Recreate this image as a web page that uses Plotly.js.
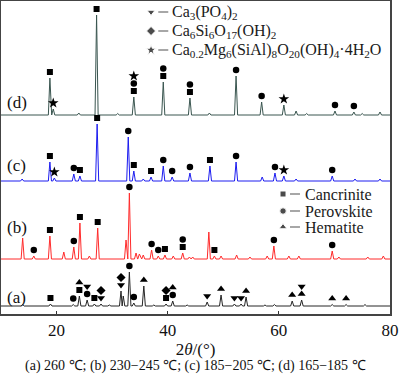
<!DOCTYPE html>
<html>
<head>
<meta charset="utf-8">
<script src="https://cdn.plot.ly/plotly-3.0.1.min.js"></script>
<style>html,body{margin:0;padding:0;background:#fff;}#chart{width:400px;height:379px;}</style>
</head>
<body>
<div id="chart"></div>
<script>
// ---------------- DATA ----------------
// Peak positions (2θ, degrees) and relative intensities (a.u.) of each pattern
const peaks_a_2theta = [13.9, 18.9, 23.0, 24.1, 25.5, 26.8, 28.0, 29.5, 31.6, 32.0, 33.1, 33.9, 35.7, 37.5, 39.7, 40.9, 43.5, 47.1, 49.6, 52.0, 53.2, 54.1, 57.5, 59.2, 62.4, 64.1, 69.6, 72.1, 75.5];
const peaks_a_int    = [1.5,  2,    1.5,  10,   6,    2,    2,    1,    15,   10,   34,   3,    20,   1,    2,    5,    1,    4,    11,   2,    2,    9,    1,    1.5,  5,    6,    1.5,  1.5,  1.5];

const peaks_b_2theta = [13.9, 15.9, 18.8, 21.3, 23.1, 24.2, 25.9, 27.4, 32.5, 33.1, 34.3, 34.9, 35.6, 37.1, 38.3, 39.5, 41.0, 42.7, 43.9, 44.5, 47.4, 48.4, 49.6, 52.4, 54.8, 57.9, 59.1, 61.8, 63.6, 69.6, 70.8, 76.0, 78.8];
const peaks_b_int    = [21,   3,    23,   7,    12,   36,   3,    31,   19,   66,   6,    5,    4,    9,    3,    4,    3,    6,    2,    2,    27,   3,    3,    4,    2,    3,    13,   3,    3,    8,    2,    2,    3];

const peaks_c_2theta = [13.8, 18.8, 19.6, 23.1, 24.2, 27.3, 32.9, 33.9, 35.6, 37.0, 39.2, 40.8, 44.0, 47.6, 52.3, 57.0, 59.3, 60.9, 63.1, 69.6, 73.7, 78.2];
const peaks_c_int    = [2,    19,   3,    7,    5,    57,   44,   10,   2,    4,    15,   4,    8,    15,   19,   4,    8,    5,    2,    5,    2,    2];

const peaks_d_2theta = [18.8, 19.4, 24.0, 27.2, 31.0, 33.9, 39.2, 44.0, 47.5, 52.3, 56.9, 60.9, 63.1, 65.0, 70.1, 73.5, 75.0, 78.2];
const peaks_d_int    = [37,   6,    2,    100,  1.5,  18,   33,   17,   2,    39,   13,   10,   4,    1.5,  4,    3,    1.5,  3];

// Phase markers: which pattern, at which peak (2θ), and stack level above that peak
const cancrinite_pattern = ['a','a','a','a','b','b','b','b','b','b','c','c','c','c','c','c','d','d','d','d','d'];
const cancrinite_2theta  = [18.9,24.1,26.8,39.7,18.8,24.2,27.4,39.5,42.7,48.4,18.8,24.2,27.3,33.9,37.0,47.6,18.8,27.2,33.9,39.2,44.0];
const cancrinite_level   = [0,0,0,0,0,0,0,0,0,0,0,0,0,0,0,0,0,0,0,0,0];

const perovskite_pattern = ['a','a','a','a','a','b','b','b','b','b','b','b','b','c','c','c','c','c','c','c','c','d','d','d','d','d','d','d'];
const perovskite_2theta  = [23.0,25.5,33.1,33.9,40.9,15.9,23.1,33.1,37.1,38.3,42.7,59.1,69.6,23.1,32.9,39.2,40.8,44.0,52.3,59.3,69.6,33.9,39.2,44.0,52.3,56.9,70.1,73.5];
const perovskite_level   = [0,0,0,0,0,0,0,0,0,0,1,0,0,0,0,0,0,0,0,0,0,1,1,1,0,0,0,0];

const hematite_pattern = ['a','a','a','a','a','a','a','a','a'];
const hematite_2theta  = [24.1,35.7,40.9,49.6,54.1,62.4,64.1,69.6,72.1];
const hematite_level   = [1,0,1,0,0,0,0,0,0];

const phosphate_pattern = ['a','a','a','a','a','a','a'];
const phosphate_2theta  = [25.5,28.0,31.6,47.1,52.0,53.2,64.1];
const phosphate_level   = [1,0,0,0,0,0,1];

const silicate_pattern = ['a','a','a'];
const silicate_2theta  = [28.0,31.6,39.7];
const silicate_level   = [1,1,1];

const mgsilicate_pattern = ['c','c','d','d','d'];
const mgsilicate_2theta  = [19.6,60.9,19.4,33.9,60.9];
const mgsilicate_level   = [0,0,0,2,0];

// Labels
const patternLabels = ['(a)','(b)','(c)','(d)'];
const legendTop = ['Ca<sub>3</sub>(PO<sub>4</sub>)<sub>2</sub>',
                   'Ca<sub>6</sub>Si<sub>6</sub>O<sub>17</sub>(OH)<sub>2</sub>',
                   'Ca<sub>0.2</sub>Mg<sub>6</sub>(SiAl)<sub>8</sub>O<sub>20</sub>(OH)<sub>4</sub>·4H<sub>2</sub>O'];
const legendMid = ['Cancrinite','Perovskite','Hematite'];
const xTickVals = [20, 40, 60, 80];
const xTitle = '2<i>θ</i>/(°)';
const caption = '(a) 260 ℃; (b) 230−245 ℃; (c) 185−205 ℃; (d) 165−185 ℃';

// ---------------- STYLE / LAYOUT ----------------
const FONT = 'Liberation Serif, Times New Roman, serif';
const style = {
  a: {color:'#262626', offset: 8},
  b: {color:'#ff2b2b', offset: 55},
  c: {color:'#1c1cf0', offset: 133},
  d: {color:'#3a5650', offset: 199}
};
const peakHalfWidth = 0.28;
const markerGap = 6, markerStep = 7.5;
const X0 = 10, X1 = 80, YMAX = 313;

const patterns = {
  a: {t: peaks_a_2theta, i: peaks_a_int},
  b: {t: peaks_b_2theta, i: peaks_b_int},
  c: {t: peaks_c_2theta, i: peaks_c_int},
  d: {t: peaks_d_2theta, i: peaks_d_int}
};

function buildLine(key) {
  const p = patterns[key], off = style[key].offset;
  const idx = p.t.map((v, k) => k).sort((m, n) => p.t[m] - p.t[n]);
  const xs = [X0], ys = [off];
  idx.forEach((k, j) => {
    const c = p.t[k];
    const prev = j > 0 ? p.t[idx[j-1]] : -Infinity;
    const next = j < idx.length - 1 ? p.t[idx[j+1]] : Infinity;
    const lf = Math.max(c - peakHalfWidth, (c + prev) / 2);
    const rf = Math.min(c + peakHalfWidth, (c + next) / 2);
    xs.push(lf, c, rf); ys.push(off, off + p.i[k], off);
  });
  xs.push(X1); ys.push(off);
  return {x: xs, y: ys, type: 'scatter', mode: 'lines', hoverinfo: 'skip',
          line: {color: style[key].color, width: 1}};
}

function peakTop(key, tt) {
  const p = patterns[key];
  let best = 0, bd = Infinity;
  p.t.forEach((v, k) => { const d = Math.abs(v - tt); if (d < bd) { bd = d; best = k; } });
  return style[key].offset + p.i[best];
}

function markerTrace(pat, tt, lvl, symbol, size) {
  return {
    x: tt.slice(),
    y: tt.map((v, k) => peakTop(pat[k], v) + markerGap + lvl[k] * markerStep),
    type: 'scatter', mode: 'markers', hoverinfo: 'skip',
    marker: {symbol: symbol, size: size, color: '#000', line: {width: 0}}
  };
}

const traces = ['a','b','c','d'].map(buildLine);
traces.push(markerTrace(cancrinite_pattern, cancrinite_2theta, cancrinite_level, 'square', 6));
traces.push(markerTrace(perovskite_pattern, perovskite_2theta, perovskite_level, 'circle', 6.5));
traces.push(markerTrace(hematite_pattern, hematite_2theta, hematite_level, 'triangle-up', 7));
traces.push(markerTrace(phosphate_pattern, phosphate_2theta, phosphate_level, 'triangle-down', 7));
traces.push(markerTrace(silicate_pattern, silicate_2theta, silicate_level, 'diamond', 7));
traces.push(markerTrace(mgsilicate_pattern, mgsilicate_2theta, mgsilicate_level, 'star', 8));

// Legend blocks (drawn in data space of the fixed axes)
const legTop = {sx: 37.0, d0: 38.3, d1: 40.1, tx: 40.5, ys: [302, 283, 264], sym: ['triangle-down','diamond','star'], size: [7,7,8]};
const legMid = {sx: 60.75, d0: 62.0, d1: 63.8, tx: 64.3, ys: [120, 103, 87], sym: ['square','circle','triangle-up'], size: [6,6.5,7]};

const shapes = [], annotations = [];
[[legTop, legendTop], [legMid, legendMid]].forEach(([L, texts]) => {
  traces.push({x: L.ys.map(() => L.sx), y: L.ys, type: 'scatter', mode: 'markers', hoverinfo: 'skip',
               marker: {symbol: L.sym, size: L.size, color: '#000'}});
  texts.forEach((t, k) => {
    shapes.push({type: 'line', xref: 'x', yref: 'y', x0: L.d0, x1: L.d1, y0: L.ys[k], y1: L.ys[k],
                 line: {color: '#777', width: 1.3}});
    annotations.push({xref: 'x', yref: 'y', x: L.tx, y: L.ys[k], text: t, showarrow: false,
                      xanchor: 'left', yanchor: 'middle', font: {family: FONT, size: 16, color: '#1a1a1a'}});
  });
});

const labelY = [17, 87, 149, 212];
patternLabels.forEach((t, k) => {
  annotations.push({xref: 'x', yref: 'y', x: 10.7, y: labelY[k], text: t, showarrow: false,
                    xanchor: 'left', yanchor: 'middle', font: {family: FONT, size: 17, color: '#111'}});
});

annotations.push({xref: 'paper', yref: 'paper', x: 0.5, y: -0.165, text: caption, showarrow: false,
                  xanchor: 'center', yanchor: 'middle', font: {family: FONT, size: 14, color: '#111'}});

const layout = {
  width: 400, height: 379,
  margin: {l: 1, r: 10, t: 1, b: 65},
  paper_bgcolor: '#fff', plot_bgcolor: '#fff',
  showlegend: false,
  font: {family: FONT, size: 17, color: '#111'},
  xaxis: {range: [X0, X1], tickvals: xTickVals, ticks: 'inside', ticklen: 3, tickwidth: 1, tickcolor: '#333',
          showline: true, mirror: true, linecolor: '#444', linewidth: 1.5, showgrid: false, zeroline: false,
          tickfont: {family: FONT, size: 17, color: '#111'},
          title: {text: xTitle, font: {family: FONT, size: 17, color: '#111'}, standoff: 0}},
  yaxis: {range: [0, YMAX], showticklabels: false, ticks: '', showline: true, mirror: true,
          linecolor: '#444', linewidth: 1.5, showgrid: false, zeroline: false},
  shapes: shapes,
  annotations: annotations
};

Plotly.newPlot('chart', traces, layout, {displayModeBar: false, staticPlot: true});
</script>
</body>
</html>
